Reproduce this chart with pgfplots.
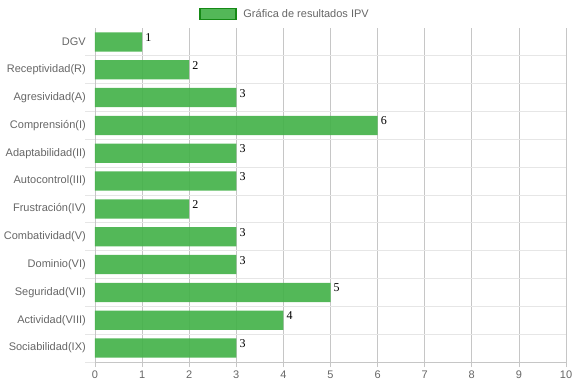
\documentclass[border=0pt]{standalone}
\usepackage{pgfplots}
\pgfplotsset{compat=1.18}
\usepackage{fontspec}
\setmainfont{Liberation Sans}
\newfontfamily\serifnum{Liberation Serif}
\definecolor{txt}{HTML}{666666}
\definecolor{vgrid}{HTML}{C6C6C6}
\definecolor{hgrid}{HTML}{E6E6E6}
\definecolor{barfill}{HTML}{44B24A}
\definecolor{legborder}{HTML}{168A16}
\begin{document}
\begin{tikzpicture}
\useasboundingbox (-95bp,-24bp) rectangle (479bp,362bp);
\begin{axis}[
  scale only axis, width=471bp, height=334bp,
  at={(0,0)}, anchor=south west,
  xmin=0, xmax=10, ymin=-0.5, ymax=11.5, y dir=reverse,
  xbar, bar width=19.2bp,
  xtick={0,...,10},
  ytick={0,...,11},
  yticklabels={DGV,Receptividad(R),Agresividad(A),Comprensión(I),Adaptabilidad(II),Autocontrol(III),Frustración(IV),Combatividad(V),Dominio(VI),Seguridad(VII),Actividad(VIII),Sociabilidad(IX)},
  minor ytick={0.5,1.5,...,11.5},
  xmajorgrids=true, yminorgrids=true, ymajorgrids=false,
  major grid style={vgrid, line width=0.8bp},
  minor grid style={hgrid, line width=0.8bp},
  axis x line*=bottom, axis y line*=left,
  axis line style={vgrid, line width=0.9bp},
  tick align=outside,
  major tick length=5bp, minor tick length=10bp,
  major x tick style={vgrid, line width=0.8bp},
  major y tick style={draw=none},
  minor y tick style={hgrid, line width=0.8bp},
  /pgf/number format/assume math mode=true,
  tick label style={font=\fontsize{11bp}{13bp}\selectfont, text=txt},
  yticklabel style={inner sep=0pt, xshift=-4bp},
  xticklabel style={inner sep=0pt, yshift=-4bp},
  nodes near coords,
  nodes near coords style={font=\serifnum\fontsize{12bp}{14bp}\selectfont, text=black, anchor=north west, inner sep=0pt, xshift=3bp, yshift=8.6bp},
  legend style={at={(0.2208,1.0419)}, anchor=west, draw=none, fill=none, inner sep=0pt,
    font=\fontsize{11bp}{13bp}\selectfont, text=txt},
  legend image code/.code={\draw[fill=barfill, draw=legborder, line width=1.5bp] (0bp,-5.5bp) rectangle (36bp,5.5bp); \path (41.5bp,0bp);},
]
\addplot[fill=barfill, fill opacity=0.92, draw=none, text opacity=1] coordinates {
  (1,0) (2,1) (3,2) (6,3) (3,4) (3,5) (2,6) (3,7) (3,8) (5,9) (4,10) (3,11)
};
\addlegendentry{Gráfica de resultados IPV}
\end{axis}
\end{tikzpicture}
\end{document}
